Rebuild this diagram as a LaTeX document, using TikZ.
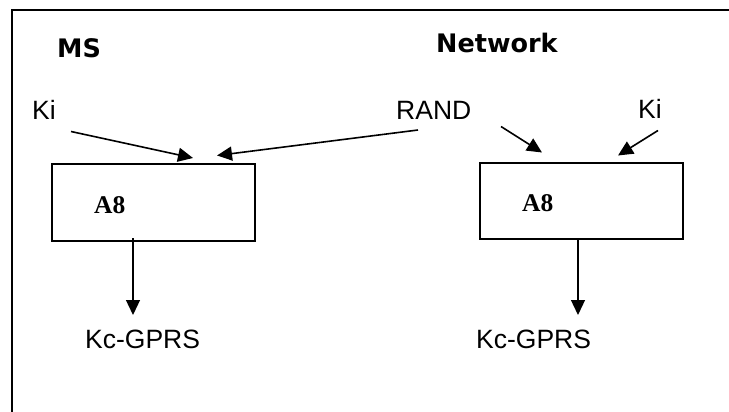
\documentclass[tikz,border=0pt]{standalone}
\usepackage{fontspec}
\setmainfont{Liberation Sans}
\newfontfamily\headfont{DejaVu Sans}
\newfontfamily\boxfont{Liberation Serif}
\usetikzlibrary{arrows.meta}
\begin{document}
\begin{tikzpicture}[x=1pt,y=-1pt,
  plain/.style={inner sep=0pt,anchor=base west,font=\fontsize{26.5}{30}\selectfont},
  head/.style={inner sep=0pt,anchor=base west,font=\headfont\bfseries\fontsize{25.5}{30}\selectfont},
  algo/.style={inner sep=0pt,anchor=base west,font=\boxfont\bfseries\fontsize{25.5}{30}\selectfont},
  blk/.style={draw,line width=2.5pt,inner sep=0pt},
  flow/.style={line width=1.6pt,-{Triangle[length=15pt,width=14pt]}},
  drop/.style={line width=1.3pt,-{Triangle[length=15pt,width=14pt]}}]
\useasboundingbox (0,0) rectangle (729,412);
% open frame: top and left edges only
\draw[line width=2pt] (11.5,412) -- (11.5,10.5) -- (729,10.5);

% headings
\node[head] (ms) at (57,58) {MS};
\node[head] (net) at (436,53) {Network};

% inputs
\node[plain] (kil) at (32,119) {Ki};
\node[plain] (rand) at (396,120) {RAND};
\node[plain] (kir) at (638,118) {Ki};

% A8 blocks
\draw[blk] (52,164) rectangle (255,241);
\node[algo] (a8l) at (94,213) {A8};
\draw[blk] (480,163) rectangle (683,239);
\node[algo] (a8r) at (522,211) {A8};
\coordinate (bl) at (153.5,202.5);
\coordinate (br) at (581.5,201);

% outputs
\node[plain] (kcl) at (85,348) {Kc-GPRS};
\node[plain] (kcr) at (476,348) {Kc-GPRS};

% arrow end points
\coordinate (kil0) at (71,131.5);
\coordinate (kil1) at (193,158);
\coordinate (rl0) at (418,130);
\coordinate (rl1) at (217,155.5);
\coordinate (rr0) at (501,126.5);
\coordinate (rr1) at (542,152.5);
\coordinate (kir0) at (658,130.5);
\coordinate (kir1) at (618,155.5);
\coordinate (dl0) at (133,238);
\coordinate (dl1) at (133,315);
\coordinate (dr0) at (578,239);
\coordinate (dr1) at (578,315);

\draw[flow] (kil0) -- (kil1);
\draw[flow] (rl0) -- (rl1);
\draw[flow] (rr0) -- (rr1);
\draw[flow] (kir0) -- (kir1);
\draw[drop] (dl0) -- (dl1);
\draw[drop] (dr0) -- (dr1);
\end{tikzpicture}
\end{document}
